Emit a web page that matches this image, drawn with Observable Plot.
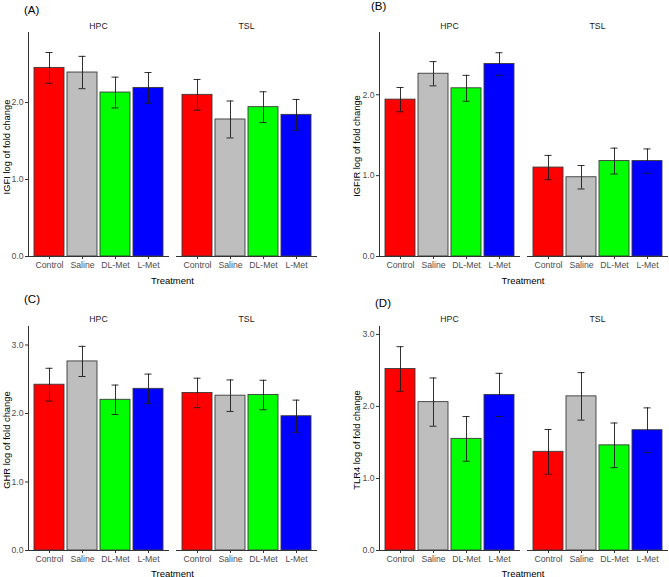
<!DOCTYPE html>
<html>
<head>
<meta charset="utf-8">
<script src="https://cdn.jsdelivr.net/npm/d3@7"></script>
<script src="https://cdn.jsdelivr.net/npm/@observablehq/plot@0.6"></script>
<style>
  html, body { margin: 0; padding: 0; background: #fff; }
  #root { position: relative; width: 669px; height: 577px; font-family: "Liberation Sans", Arial, sans-serif; }
  .panel { position: absolute; }
  .letter { position: absolute; font-size: 11.5px; color: #000; line-height: 1; }
  .facet { position: absolute; font-size: 8.7px; color: #1a1a1a; transform: translate(-50%, -50%); white-space: nowrap; line-height: 1; }
  .xtitle { position: absolute; font-size: 9.5px; color: #000; transform: translate(-50%, -50%); white-space: nowrap; }
  .ytitle { position: absolute; font-size: 9.4px; color: #000; transform: translate(-50%, -50%) rotate(-90deg); white-space: nowrap; }
</style>
</head>
<body>
<div id="root"></div>
<script>
const treatments = ["Control", "Saline", "DL-Met", "L-Met"];
const tissues = ["HPC", "TSL"];
const barColors = ["#FF0000", "#BEBEBE", "#00FF00", "#0000FF"];

// values per tissue: HPC (4 treatments) then TSL (4 treatments)
const igf1Mean  = [2.45, 2.39, 2.13, 2.19, 2.10, 1.78, 1.94, 1.84];
const igf1Se    = [0.20, 0.21, 0.20, 0.20, 0.20, 0.24, 0.20, 0.20];
const igf1rMean = [1.94, 2.26, 2.08, 2.38, 1.10, 0.98, 1.18, 1.18];
const igf1rSe   = [0.15, 0.15, 0.16, 0.14, 0.15, 0.145, 0.16, 0.15];
const ghrMean   = [2.42, 2.76, 2.20, 2.36, 2.30, 2.26, 2.27, 1.96];
const ghrSe     = [0.24, 0.22, 0.215, 0.215, 0.215, 0.23, 0.215, 0.235];
const tlr4Mean  = [2.52, 2.06, 1.55, 2.16, 1.37, 2.14, 1.46, 1.67];
const tlr4Se    = [0.31, 0.335, 0.31, 0.30, 0.31, 0.33, 0.31, 0.31];

const panels = [
  {letter: "(A)", ylab: "IGFI log of fold change",  mean: igf1Mean,  se: igf1Se,  ymax: 2.91, yticks: [0, 1, 2],
   left: 0,   top: 0,   width: 335, height: 274, mt: 32, mb: 18, ml: 28, mr: 18,
   letterPos: [24, 5], facetY: 25.5, ytitlePos: [5.5, 147], xtitlePos: [172.5, 280]},
  {letter: "(B)", ylab: "IGFIR log of fold change", mean: igf1rMean, se: igf1rSe, ymax: 2.77, yticks: [0, 1, 2],
   left: 335, top: 0,   width: 334, height: 274, mt: 32, mb: 18, ml: 43, mr: 1,
   letterPos: [371, 1], facetY: 25.5, ytitlePos: [355.5, 146], xtitlePos: [523, 279.5]},
  {letter: "(C)", ylab: "GHR log of fold change",   mean: ghrMean,   se: ghrSe,   ymax: 3.27, yticks: [0, 1, 2, 3],
   left: 0,   top: 287, width: 335, height: 281, mt: 39, mb: 18, ml: 28, mr: 18,
   letterPos: [24, 294], facetY: 318.5, ytitlePos: [5.5, 440], xtitlePos: [172.5, 573]},
  {letter: "(D)", ylab: "TLR4 log of fold change",  mean: tlr4Mean,  se: tlr4Se,  ymax: 3.11, yticks: [0, 1, 2, 3],
   left: 335, top: 287, width: 334, height: 281, mt: 39, mb: 18, ml: 43, mr: 1,
   letterPos: [375, 297.5], facetY: 318.5, ytitlePos: [355.5, 440], xtitlePos: [523, 573]}
];

const root = document.getElementById("root");

function buildRows(mean, se) {
  const rows = [];
  tissues.forEach((t, ti) => treatments.forEach((tr, i) => {
    const k = ti * treatments.length + i;
    rows.push({tissue: t, treatment: tr, mean: mean[k], lo: mean[k] - se[k], hi: mean[k] + se[k]});
  }));
  return rows;
}

function addDiv(cls, text, x, y) {
  const d = document.createElement("div");
  d.className = cls;
  d.textContent = text;
  d.style.left = x + "px";
  d.style.top = y + "px";
  root.appendChild(d);
}

for (const p of panels) {
  const rows = buildRows(p.mean, p.se);
  const chart = Plot.plot({
    width: p.width,
    height: p.height,
    marginTop: p.mt, marginBottom: p.mb, marginLeft: p.ml, marginRight: p.mr,
    style: {fontFamily: "'Liberation Sans', Arial, sans-serif", fontSize: "8.7px", color: "#4d4d4d", background: "transparent", overflow: "visible"},
    fx: {domain: tissues, paddingInner: 0.05, paddingOuter: 0, label: null, axis: null},
    x: {domain: treatments, paddingInner: 0.1, paddingOuter: 0.15, label: null},
    y: {domain: [0, p.ymax], label: null},
    color: {domain: treatments, range: barColors},
    marks: [
      Plot.barY(rows, {fx: "tissue", x: "treatment", y: "mean", fill: "treatment", stroke: "#3a3a3a", strokeWidth: 0.9}),
      Plot.ruleX(rows, {fx: "tissue", x: "treatment", y1: "lo", y2: "hi", stroke: "#1a1a1a", strokeWidth: 0.9}),
      Plot.tickY(rows, {fx: "tissue", x: "treatment", y: "hi", stroke: "#1a1a1a", strokeWidth: 0.9, insetLeft: 11.5, insetRight: 11.5}),
      Plot.tickY(rows, {fx: "tissue", x: "treatment", y: "lo", stroke: "#1a1a1a", strokeWidth: 0.9, insetLeft: 11.5, insetRight: 11.5}),
      Plot.ruleY([0], {stroke: "#333", strokeWidth: 1}),
      Plot.frame({anchor: "left", facetAnchor: "left", stroke: "#333", strokeWidth: 1}),
      Plot.axisX({tickSize: 3, tickPadding: 2, stroke: "#333", fill: "#4d4d4d", label: null}),
      Plot.axisY({ticks: p.yticks, tickFormat: d3.format(".1f"), tickSize: 3, tickPadding: 2, stroke: "#333", fill: "#4d4d4d", label: null})
    ]
  });
  chart.classList.add("panel");
  chart.style.left = p.left + "px";
  chart.style.top = p.top + "px";
  root.appendChild(chart);

  // facet strip labels, centred on the facet bands of Plot's fx scale
  const fx = chart.scale("fx");
  for (const t of tissues) {
    addDiv("facet", t, p.left + fx.apply(t) + fx.bandwidth / 2, p.facetY);
  }

  addDiv("letter", p.letter, p.letterPos[0], p.letterPos[1]);
  addDiv("ytitle", p.ylab, p.ytitlePos[0], p.ytitlePos[1]);
  addDiv("xtitle", "Treatment", p.xtitlePos[0], p.xtitlePos[1]);
}
</script>
</body>
</html>
